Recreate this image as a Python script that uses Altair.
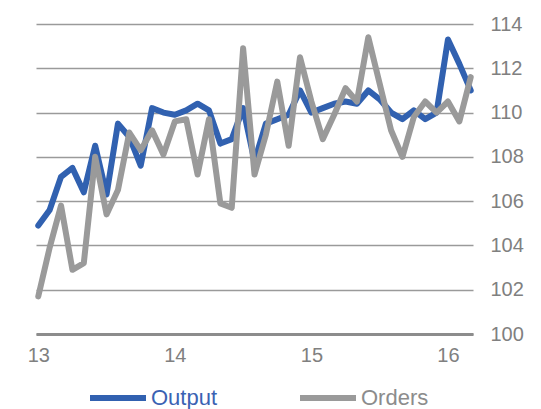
import altair as alt
import pandas as pd

months = list(range(39))
output = [104.9, 105.6, 107.1, 107.5, 106.4, 108.5, 106.3, 109.5, 108.9, 107.6,
          110.2, 110.0, 109.9, 110.1, 110.4, 110.1, 108.6, 108.8, 110.2, 107.8,
          109.5, 109.7, 109.9, 111.0, 110.0, 110.2, 110.4, 110.5, 110.4, 111.0,
          110.6, 110.0, 109.7, 110.1, 109.7, 110.0, 113.3, 112.2, 111.0]
orders = [101.7, 103.9, 105.8, 102.9, 103.2, 108.0, 105.4, 106.5, 109.1, 108.3,
          109.2, 108.1, 109.6, 109.7, 107.2, 109.7, 105.9, 105.7, 112.9, 107.2,
          109.0, 111.4, 108.5, 112.5, 110.5, 108.8, 109.9, 111.1, 110.5, 113.4,
          111.3, 109.2, 108.0, 109.8, 110.5, 110.0, 110.5, 109.6, 111.6]
series_names = ["Output", "Orders"]
series_colors = ["#3161b0", "#9a9a9a"]
year_ticks = [0, 12, 24, 36]
year_labels = ["13", "14", "15", "16"]
y_ticks = [100, 102, 104, 106, 108, 110, 112, 114]

df = pd.DataFrame({
    "m": months * 2,
    "v": output + orders,
    "s": ["Output"] * len(months) + ["Orders"] * len(months),
})

label_expr = "[" + ",".join(f"'{l}'" for l in year_labels) + "][round(datum.value / 12)]"

x = alt.X("m:Q",
          scale=alt.Scale(domain=[-0.2, 38.2], nice=False, zero=False),
          axis=alt.Axis(values=year_ticks, labelExpr=label_expr, title=None, grid=False,
                        ticks=False, tickSize=0, labelFlush=False, domainColor="#8c8c8c",
                        domainWidth=3, labelPadding=11, labelFontSize=20,
                        labelColor="#808080"))
y = alt.Y("v:Q",
          scale=alt.Scale(domain=[100, 114], nice=False, zero=False),
          axis=alt.Axis(orient="right", values=y_ticks, grid=True, gridColor="#9a9a9a",
                        gridWidth=1.5, domain=False, ticks=False, tickSize=0,
                        labelPadding=17, labelFontSize=20, labelColor="#808080",
                        title=None))
color = alt.Color("s:N",
                  scale=alt.Scale(domain=series_names, range=series_colors),
                  legend=alt.Legend(orient="none", legendX=51, legendY=343,
                                    direction="horizontal", title=None,
                                    symbolType="stroke", symbolSize=3136,
                                    symbolStrokeWidth=6, labelFontSize=22,
                                    labelOffset=2, columnPadding=70, padding=0,
                                    labelColor=alt.ExprRef(expr="datum.label == 'Output' ? '#3a62b3' : '#8c8c8c'")))

base = alt.Chart(df)
l_out = base.transform_filter("datum.s == 'Output'").mark_line(
    strokeWidth=6, strokeJoin="round", strokeCap="round").encode(x=x, y=y, color=color)
l_ord = base.transform_filter("datum.s == 'Orders'").mark_line(
    strokeWidth=6, strokeJoin="round", strokeCap="round").encode(x=x, y=y, color=color)

chart = alt.layer(l_out, l_ord).properties(
    width=437, height=310,
    padding={"left": 27, "top": 14, "right": 5, "bottom": 0},
).configure(font="Liberation Sans").configure_view(stroke=None)

chart.save("out.html", embed_options={"renderer": "svg", "actions": False})
